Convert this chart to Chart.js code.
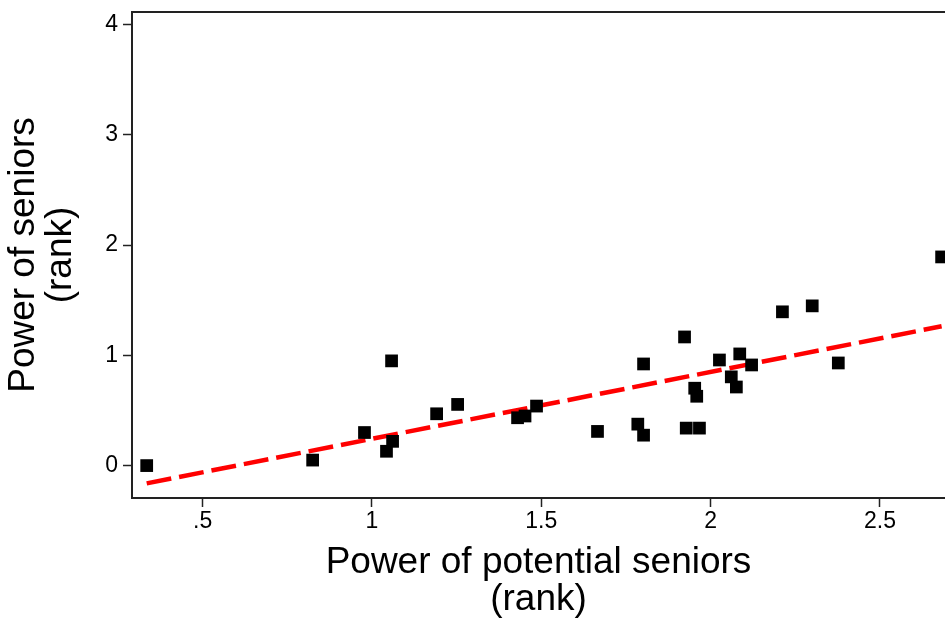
<!DOCTYPE html>
<html>
<head>
<meta charset="utf-8">
<script src="https://cdn.jsdelivr.net/npm/chart.js@4"></script>
<style>
  html, body { margin: 0; padding: 0; background: #fff; overflow: hidden; }
  #wrap { position: relative; width: 945px; height: 618px; }
  #myChart { display: block; }
</style>
</head>
<body>
<div id="wrap"><canvas id="myChart"></canvas></div>
<script>
// scatter values
const seniorsPotential = [0.335, 0.825, 0.978, 1.058, 1.043, 1.061, 1.191, 1.253, 1.430, 1.452,
  1.486, 1.666, 1.785, 1.802, 1.802, 1.923, 1.928, 1.967, 1.953, 1.959,
  2.026, 2.061, 2.076, 2.086, 2.121, 2.212, 2.300, 2.377, 2.682];
const seniorsPower = [0.00, 0.05, 0.30, 0.95, 0.13, 0.22, 0.47, 0.555, 0.434, 0.45,
  0.54, 0.31, 0.376, 0.276, 0.922, 1.167, 0.34, 0.34, 0.702, 0.629,
  0.958, 0.805, 0.713, 1.013, 0.913, 1.395, 1.449, 0.931, 1.893];

// fitted line ends
const fitX = [0.335, 2.682];
const fitY = [-0.161, 1.264];

const xTicks = [0.5, 1, 1.5, 2, 2.5];
const xTickLabels = ['.5', '1', '1.5', '2', '2.5'];
const yTicks = [0, 1, 2, 3, 4];

const font = "'Liberation Sans', Arial, sans-serif";

// stop the scales from adding room for edge labels
function noPad(s) {
  s.paddingTop = 0;
  s.paddingBottom = 0;
  s.paddingLeft = 0;
  s.paddingRight = 0;
}

const topBorder = {
  id: 'topBorder',
  afterDraw(chart) {
    const a = chart.chartArea, c = chart.ctx;
    c.save();
    c.strokeStyle = '#222';
    c.lineWidth = 2;
    c.beginPath();
    c.moveTo(a.left, a.top);
    c.lineTo(a.right, a.top);
    c.stroke();
    c.restore();
  }
};

const ctx = document.getElementById('myChart');

new Chart(ctx, {
  type: 'scatter',
  data: {
    datasets: [{
      label: 'points',
      data: seniorsPotential.map((x, i) => ({ x: x, y: seniorsPower[i] })),
      pointStyle: 'rect',
      pointRadius: 9,
      pointHoverRadius: 9,
      pointBorderWidth: 0,
      backgroundColor: '#000',
      borderColor: '#000',
      order: 1
    }, {
      label: 'fit',
      data: fitX.map((x, i) => ({ x: x, y: fitY[i] })),
      showLine: true,
      pointRadius: 0,
      borderColor: '#ff0000',
      borderWidth: 4.5,
      borderDash: [25, 8],
      fill: false,
      order: 2
    }]
  },
  options: {
    responsive: true,
    maintainAspectRatio: false,
    animation: false,
    layout: { autoPadding: false, padding: { top: 12, left: 0, right: 0, bottom: 0 } },
    plugins: {
      legend: { display: false },
      tooltip: { enabled: false }
    },
    scales: {
      x: {
        type: 'linear',
        min: 0.2916,
        max: 2.692,
        afterBuildTicks: s => { s.ticks = xTicks.map(v => ({ value: v })); },
        afterFit: s => { s.height = 120; noPad(s); },
        ticks: {
          color: '#000',
          font: { family: font, size: 23 },
          padding: 1,
          maxRotation: 0,
          callback: v => xTickLabels[xTicks.indexOf(v)]
        },
        grid: { drawOnChartArea: false, drawTicks: true, tickLength: 9, tickColor: '#222', tickWidth: 1.5 },
        border: { display: true, color: '#222', width: 2 },
        title: {
          display: true,
          text: ['Power of potential seniors', '(rank)'],
          color: '#000',
          font: { family: font, size: 37, lineHeight: 1 },
          padding: { top: 0, bottom: 0 }
        }
      },
      y: {
        type: 'linear',
        min: -0.294,
        max: 4.115,
        afterBuildTicks: s => { s.ticks = yTicks.map(v => ({ value: v })); },
        afterFit: s => { s.width = 132; noPad(s); },
        ticks: {
          color: '#000',
          font: { family: font, size: 23 },
          padding: 5
        },
        grid: { drawOnChartArea: false, drawTicks: true, tickLength: 9, tickColor: '#222', tickWidth: 1.5 },
        border: { display: true, color: '#222', width: 2 },
        title: {
          display: true,
          text: ['Power of seniors', '(rank)'],
          color: '#000',
          font: { family: font, size: 37, lineHeight: 1 },
          padding: { top: 5, bottom: 0 }
        }
      }
    }
  },
  plugins: [topBorder]
});
</script>
</body>
</html>
